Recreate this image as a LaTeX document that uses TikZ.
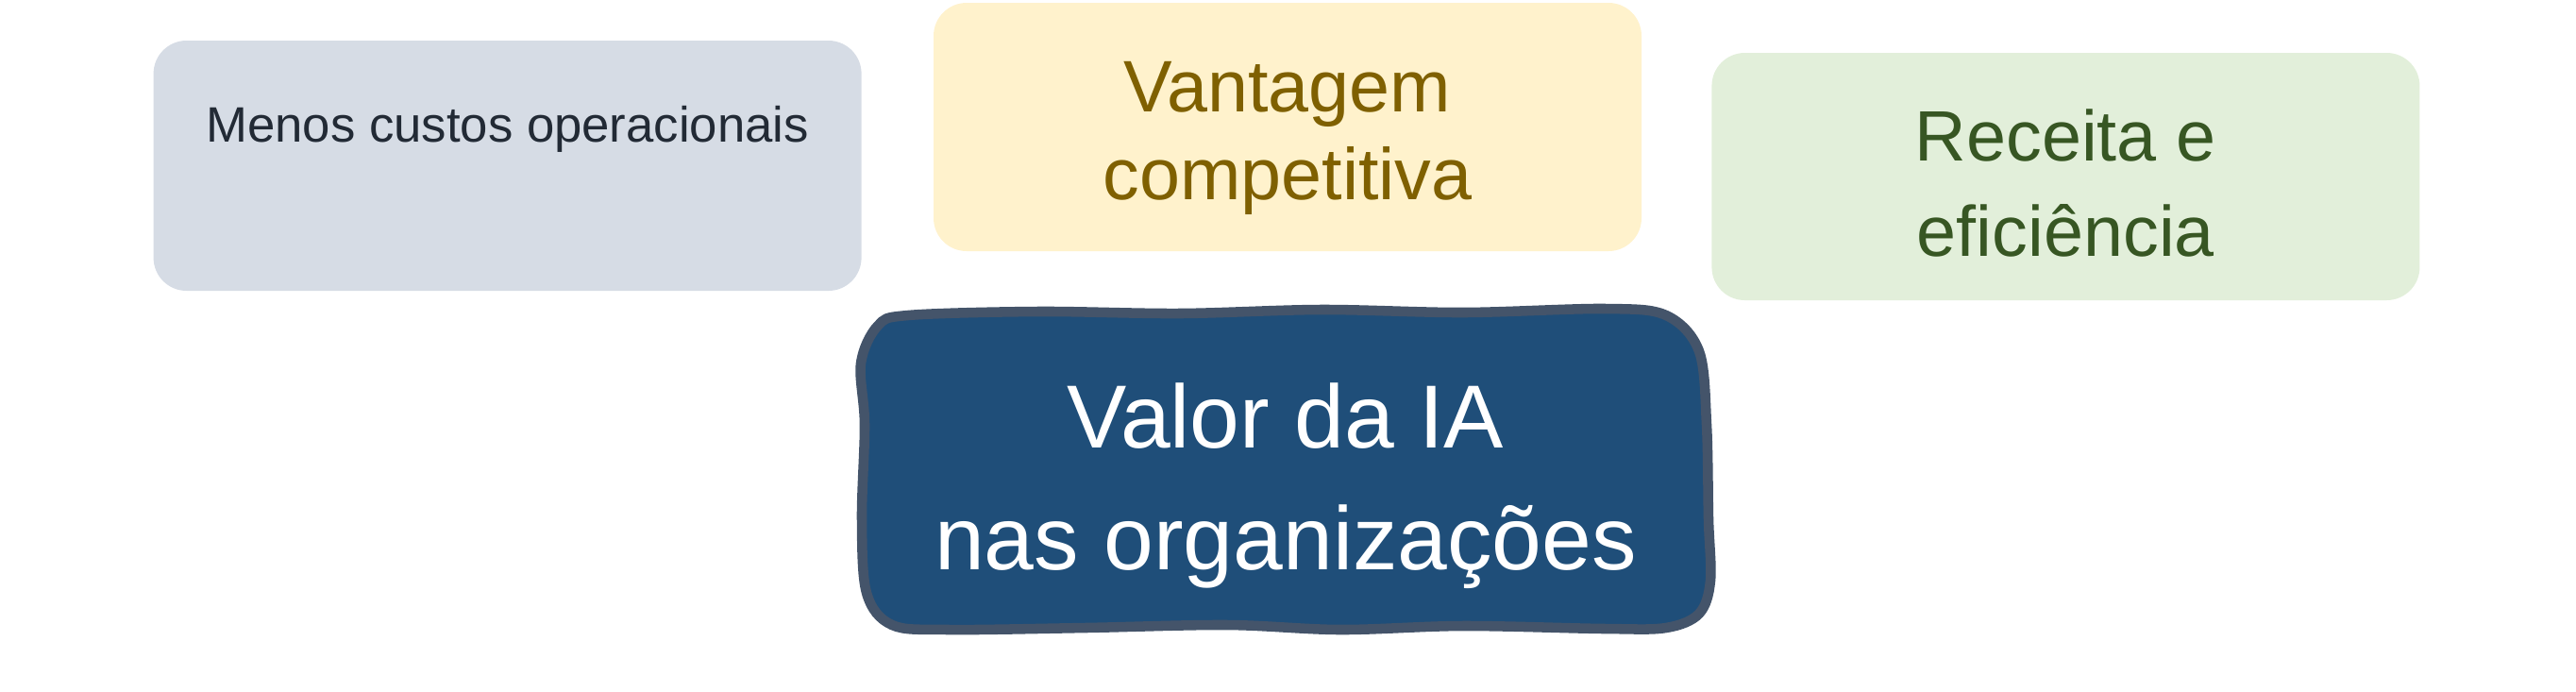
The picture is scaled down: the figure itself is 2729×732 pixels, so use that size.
\documentclass[tikz,border=0pt]{standalone}
\usepackage{fontspec}
\setmainfont{Liberation Sans}
\usepackage{tikz}
\usetikzlibrary{positioning}

\definecolor{cinzaFundo}{HTML}{D6DCE5}
\definecolor{cinzaTexto}{HTML}{222A35}
\definecolor{amareloFundo}{HTML}{FFF2CC}
\definecolor{amareloTexto}{HTML}{7F6000}
\definecolor{verdeFundo}{HTML}{E2EFDA}
\definecolor{verdeTexto}{HTML}{375623}
\definecolor{azulFundo}{HTML}{1F4E79}
\definecolor{azulBorda}{HTML}{44546A}

\begin{document}
\begin{tikzpicture}
      [ x=0.1mm, y=-0.1mm,
        caixa/.style={rectangle, rounded corners=3.5mm, minimum width=75mm,
                      minimum height=26.3mm, inner sep=0pt},
        rotulo/.style={inner sep=0pt, align=center}
      ]
      \useasboundingbox (0,0) rectangle (2729,732);

      \node[caixa,fill=amareloFundo]                     (vantagem) at (1364,134.5) {};
      \node[caixa,fill=cinzaFundo,minimum height=26.5mm]
            (custos)   [left=7.5mm of vantagem,yshift=-4.1mm]  {};
      \node[caixa,fill=verdeFundo,minimum height=26.2mm]
            (receita)  [right=7.3mm of vantagem,yshift=-5.25mm] {};

      \node[rotulo,text=cinzaTexto,font={\fontsize{15}{18}\selectfont}]
            (custosTxt)   [below=6.9mm of custos.north]      {Menos custos operacionais};
      \node[rotulo,text=amareloTexto,font={\fontsize{22}{26.5}\selectfont},yshift=-1.2mm]
            (vantagemTxt) at (vantagem)                      {Vantagem\\competitiva};
      \node[rotulo,text=verdeTexto,font={\fontsize{21.5}{28.5}\selectfont},yshift=-0.7mm]
            (receitaTxt)  at (receita)                       {Receita e\\eficiência};

      % caixa central com contorno feito a mao
      \draw[fill=azulFundo,draw=azulBorda,line width=3pt]
        plot[smooth cycle,tension=0.55] coordinates {
          (962,334) (1100,330) (1250,332) (1400,328) (1550,331) (1700,327)
          (1765,334) (1800,372) (1808,450) (1810,550) (1812,615) (1800,650)
          (1765,665) (1700,666) (1550,663) (1420,667) (1300,662) (1150,665)
          (1005,667) (945,662) (918,628) (913,550) (916,450) (912,385) (930,345)};
      \node[rotulo,text=white,font={\fontsize{27}{36.7}\selectfont}]
            (valor) at (1362,515) {Valor da IA\\nas organizações};
    \end{tikzpicture}
\end{document}
